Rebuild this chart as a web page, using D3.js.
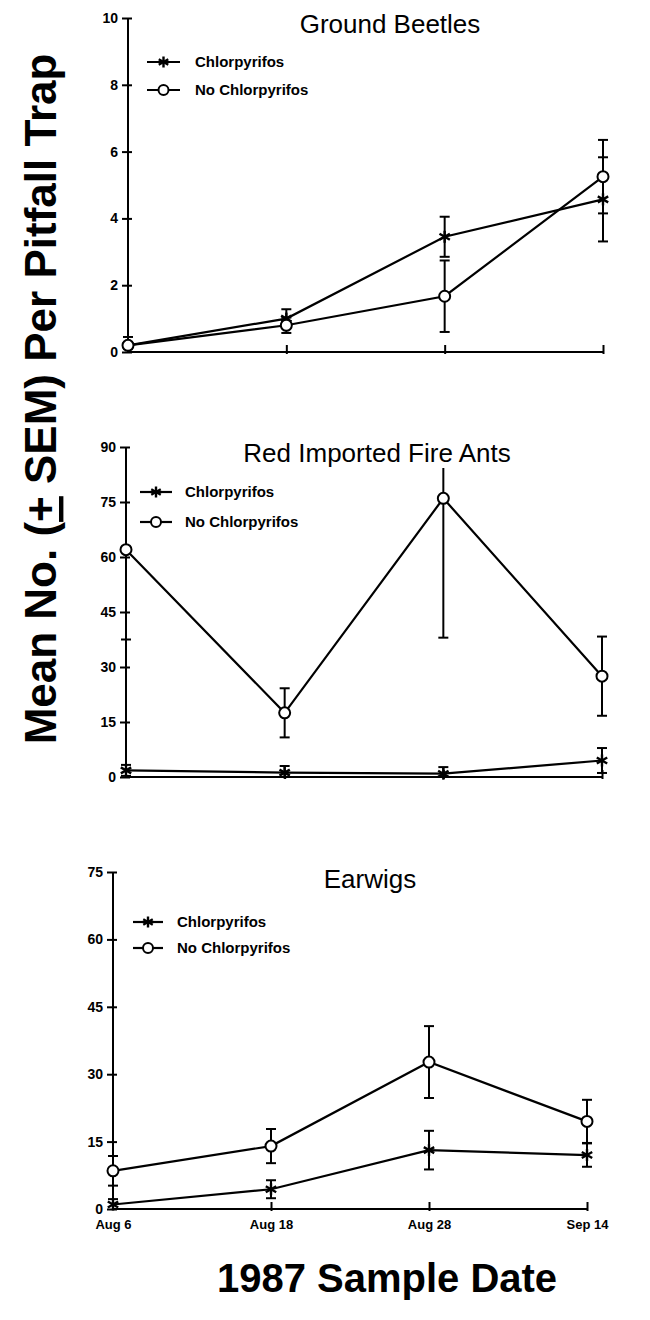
<!DOCTYPE html>
<html><head><meta charset="utf-8">
<script src="https://cdn.jsdelivr.net/npm/d3@7"></script>
<style>body{margin:0;background:#fff}svg{display:block}text{font-family:"Liberation Sans",Arial,sans-serif;fill:#000}</style>
</head><body>
<svg id="c" width="650" height="1320"></svg>
<script>
const dates = ["Aug 6", "Aug 18", "Aug 28", "Sep 14"];
const seriesNames = ["Chlorpyrifos", "No Chlorpyrifos"];
const panelTitles = ["Ground Beetles", "Red Imported Fire Ants", "Earwigs"];

const beetleChlor = [0.2, 1.0, 3.45, 4.57];
const beetleChlorSem = [0.25, 0.28, 0.6, 1.26];
const beetleNo = [0.2, 0.8, 1.67, 5.25];
const beetleNoSem = [0.1, 0.23, 1.07, 1.1];
const beetleTicks = [0, 2, 4, 6, 8, 10];

const antChlor = [1.8, 1.2, 0.9, 4.5];
const antChlorSem = [1.5, 1.8, 1.8, 3.4];
const antNo = [62, 17.5, 76, 27.5];
const antNoSem = [24.5, 6.7, 38, 10.8];
const antTicks = [0, 15, 30, 45, 60, 75, 90];

const earChlor = [1.0, 4.4, 13.1, 12.0];
const earChlorSem = [1.2, 2.0, 4.3, 2.6];
const earNo = [8.5, 14.0, 32.7, 19.5];
const earNoSem = [3.3, 3.8, 8.0, 4.8];
const earTicks = [0, 15, 30, 45, 60, 75];

const panels = [
  {title: panelTitles[0], c: beetleChlor, cs: beetleChlorSem, n: beetleNo, ns: beetleNoSem, ticks: beetleTicks,
   x0: 128, x1: 603, yT: 18, yB: 352, titleX: 390, titleY: 33, leg: {x0: 147, x1: 180, tx: 195, y1: 62, y2: 90}, dateLabels: false},
  {title: panelTitles[1], c: antChlor, cs: antChlorSem, n: antNo, ns: antNoSem, ticks: antTicks,
   x0: 126, x1: 602, yT: 447, yB: 777, titleX: 377, titleY: 462, leg: {x0: 140, x1: 172, tx: 185, y1: 492, y2: 522}, dateLabels: false, clipTop: 468},
  {title: panelTitles[2], c: earChlor, cs: earChlorSem, n: earNo, ns: earNoSem, ticks: earTicks,
   x0: 113, x1: 587, yT: 872, yB: 1209, titleX: 370, titleY: 888, leg: {x0: 133, x1: 163, tx: 177, y1: 922, y2: 948}, dateLabels: true}
];

const svg = d3.select("#c");

function star(g, cx, cy, r) {
  const s = g.append("g").attr("transform", `translate(${cx},${cy})`);
  [90, 30, -30].forEach(a => {
    const rad = a * Math.PI / 180;
    s.append("line").attr("x1", -r * Math.cos(rad)).attr("y1", -r * Math.sin(rad))
      .attr("x2", r * Math.cos(rad)).attr("y2", r * Math.sin(rad))
      .attr("stroke", "#000").attr("stroke-width", 2.4);
  });
}
function circ(g, cx, cy, r) {
  g.append("circle").attr("cx", cx).attr("cy", cy).attr("r", r)
    .attr("fill", "#fff").attr("stroke", "#000").attr("stroke-width", 2);
}

panels.forEach(p => {
  const g = svg.append("g");
  const ymax = d3.max(p.ticks);
  const x = d3.scalePoint().domain(dates).range([p.x0, p.x1]);
  const y = d3.scaleLinear().domain([0, ymax]).range([p.yB, p.yT]);

  // y axis
  const ya = g.append("g").attr("transform", `translate(${p.x0},0)`)
    .call(d3.axisLeft(y).tickValues(p.ticks).tickSize(6).tickPadding(4).tickFormat(d3.format("d")));
  ya.select(".domain").attr("stroke-width", 2).attr("d", `M0,${p.yB}V${p.yT}`);
  ya.selectAll(".tick line").attr("stroke-width", 2).attr("x1", 4);
  ya.selectAll(".tick text").style("font-size", "14px").style("font-weight", "bold")
    .attr("font-family", "Liberation Sans, Arial, sans-serif");

  // x axis
  const xa = g.append("g").attr("transform", `translate(0,${p.yB})`)
    .call(d3.axisBottom(x).tickSize(-7).tickPadding(8).tickFormat(p.dateLabels ? (d => d) : (() => "")));
  xa.select(".domain").attr("stroke-width", 2).attr("d", `M${p.x0},0H${p.x1}`);
  xa.selectAll(".tick line").attr("stroke-width", 2).attr("y2", -7).attr("y1", 2);
  xa.selectAll(".tick").filter((d, i) => i === 0).select("line").remove();
  xa.selectAll(".tick text").style("font-size", "13px").style("font-weight", "bold")
    .attr("font-family", "Liberation Sans, Arial, sans-serif").attr("dy", "0.9em");

  // title
  g.append("text").attr("x", p.titleX).attr("y", p.titleY).attr("text-anchor", "middle")
    .style("font-size", "26px").text(p.title);

  const topLimit = p.clipTop !== undefined ? p.clipTop : p.yT;
  const series = [{v: p.c, s: p.cs, m: "star"}, {v: p.n, s: p.ns, m: "circ"}];
  // error bars
  series.forEach(sr => {
    sr.v.forEach((v, i) => {
      const cx = x(dates[i]);
      const lo = Math.max(0, v - sr.s[i]);
      const hi = v + sr.s[i];
      let yHi = y(Math.min(ymax, hi));
      const clipped = yHi < topLimit;
      if (clipped) yHi = topLimit;
      const yLo = y(lo);
      g.append("line").attr("x1", cx).attr("x2", cx).attr("y1", yLo).attr("y2", yHi)
        .attr("stroke", "#000").attr("stroke-width", 2);
      if (!clipped) g.append("line").attr("x1", cx - 5).attr("x2", cx + 5).attr("y1", yHi).attr("y2", yHi)
        .attr("stroke", "#000").attr("stroke-width", 2);
      if (lo > 0) g.append("line").attr("x1", cx - 5).attr("x2", cx + 5).attr("y1", yLo).attr("y2", yLo)
        .attr("stroke", "#000").attr("stroke-width", 2);
    });
  });
  // lines
  const line = d3.line().x((d, i) => x(dates[i])).y(d => y(d));
  series.forEach(sr => {
    g.append("path").attr("d", line(sr.v)).attr("fill", "none").attr("stroke", "#000").attr("stroke-width", 2.2);
  });
  // markers
  series.forEach(sr => {
    sr.v.forEach((v, i) => {
      if (sr.m === "star") star(g, x(dates[i]), y(v), 6);
      else circ(g, x(dates[i]), y(v), 5.5);
    });
  });

  // legend
  const L = p.leg;
  [[L.y1, "star", seriesNames[0]], [L.y2, "circ", seriesNames[1]]].forEach(([ly, m, name]) => {
    g.append("line").attr("x1", L.x0).attr("x2", L.x1).attr("y1", ly).attr("y2", ly)
      .attr("stroke", "#000").attr("stroke-width", 2.2);
    if (m === "star") star(g, (L.x0 + L.x1) / 2, ly, 5.5);
    else circ(g, (L.x0 + L.x1) / 2, ly, 5);
    g.append("text").attr("x", L.tx).attr("y", ly).attr("dy", "0.36em")
      .style("font-size", "15px").style("font-weight", "bold").text(name);
  });
});

// y label
const yl = svg.append("text").attr("transform", "translate(56,399) rotate(-90)")
  .attr("text-anchor", "middle").style("font-size", "44px").style("font-weight", "bold");
yl.append("tspan").text("Mean No. (");
yl.append("tspan").style("text-decoration", "underline").text("+");
yl.append("tspan").text(" SEM) Per Pitfall Trap");

// x label
svg.append("text").attr("x", 387).attr("y", 1292).attr("text-anchor", "middle")
  .style("font-size", "40px").style("font-weight", "bold").text("1987 Sample Date");
</script>
</body></html>
